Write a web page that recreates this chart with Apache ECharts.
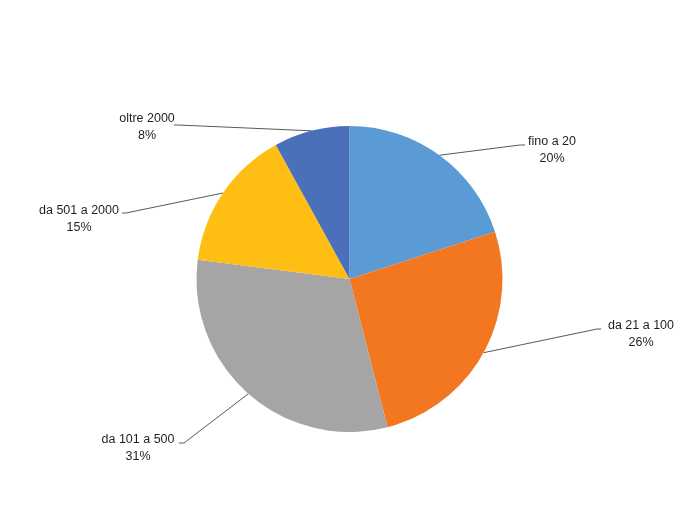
<!DOCTYPE html>
<html>
<head>
<meta charset="utf-8">
<script src="https://cdn.jsdelivr.net/npm/echarts@6/dist/echarts.min.js"></script>
<style>html,body{margin:0;padding:0;background:#fff}#c{width:699px;height:524px}</style>
</head>
<body>
<div id="c"></div>
<script>
const categories = ['fino a 20', 'da 21 a 100', 'da 101 a 500', 'da 501 a 2000', 'oltre 2000'];
const values = [20, 26, 31, 15, 8];
const colors = ['#5B9BD5', '#F37721', '#A5A5A5', '#FFBE14', '#4A70BA'];

// label layout: text centre and where the leader line meets the text
const labelPlace = [
  { cx: 552, cy: 150, ex: 520, ey: 145, hx: 525 },
  { cx: 641, cy: 334, ex: 597, ey: 329, hx: 601 },
  { cx: 138, cy: 448, ex: 184, ey: 443, hx: 179 },
  { cx: 79,  cy: 219, ex: 126, ey: 213, hx: 122 },
  { cx: 147, cy: 127, ex: 178, ey: 125, hx: 174 }
];

const chart = echarts.init(document.getElementById('c'));
chart.setOption({
  backgroundColor: '#fff',
  animation: false,
  series: [{
    type: 'pie',
    center: [349.5, 279],
    radius: 153,
    startAngle: 90,
    clockwise: true,
    data: categories.map((n, i) => ({ name: n, value: values[i], itemStyle: { color: colors[i] } })),
    label: {
      show: true,
      formatter: '{b}\n{d}%',
      fontFamily: 'Liberation Sans',
      fontSize: 12.5,
      lineHeight: 17,
      color: '#1f1f1f',
      align: 'center'
    },
    labelLine: { show: true, length: 20, length2: 20, lineStyle: { color: '#595959', width: 1 } },
    labelLayout: function (p) {
      const L = labelPlace[p.dataIndex];
      const start = p.labelLinePoints ? p.labelLinePoints[0] : [L.ex, L.ey];
      return {
        x: L.cx, y: L.cy, align: 'center', verticalAlign: 'middle',
        labelLinePoints: [start, [L.ex, L.ey], [L.hx, L.ey]]
      };
    }
  }]
});
</script>
</body>
</html>
